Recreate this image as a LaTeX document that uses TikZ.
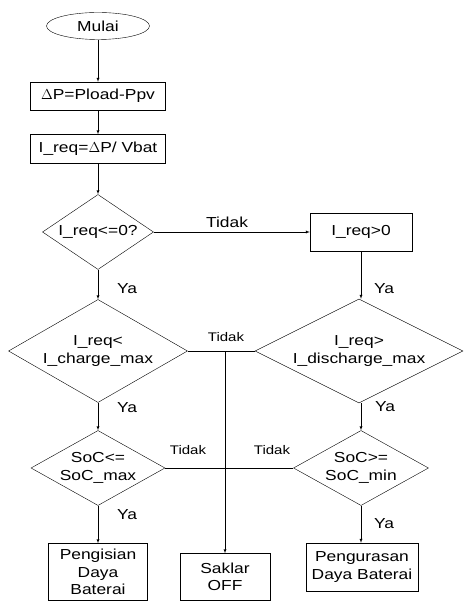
\documentclass[tikz,border=0pt]{standalone}
\usepackage{fontspec}
\setmainfont{Liberation Sans}[FakeStretch=1.2]
\usetikzlibrary{arrows}
\usetikzlibrary{shapes.geometric}
\usetikzlibrary{positioning}

\begin{document}
\begin{tikzpicture}[x=1pt,y=-1pt]
      \tikzstyle{every node}=[font=\fontsize{14.5}{17.5}\selectfont, align=center]
      \tikzstyle{box}=[draw, rectangle, inner sep=2pt]
      \tikzstyle{decision}=[draw, diamond, inner sep=0pt]
      \tikzstyle{ya}=[inner sep=0pt]
      \tikzstyle{tidak}=[inner sep=0pt, font=\fontsize{12.5}{15}\selectfont]
      \useasboundingbox (0,0) rectangle (464,601);

      \node[draw, ellipse, minimum width=103pt, minimum height=27pt] (mulai) at (98,26) {Mulai};
      \node[box, minimum width=135pt, minimum height=28pt] (dp) at (98,96) {$\Delta$P=Pload-Ppv};
      \node[box, minimum width=135pt, minimum height=29pt] (ireq) at (98,149) {I\_req=$\Delta$P/ Vbat};
      \node[decision, aspect=1.48, minimum width=111pt, minimum height=75pt] (cek0) at (98,232) {I\_req<=0?};
      \node[box, minimum width=102pt, minimum height=38pt] (pos) at (361,232) {I\_req>0};
      \node[decision, aspect=1.74, minimum width=179pt, minimum height=103pt] (cekchg) at (98,351) {I\_req<\\I\_charge\_max};
      \node[decision, aspect=2, minimum width=208pt, minimum height=104pt] (cekdis) at (359,351) {I\_req>\\I\_discharge\_max};
      \node[decision, aspect=1.79, minimum width=134pt, minimum height=75pt] (socmax) at (98,468) {SoC<=\\SoC\_max};
      \node[decision, aspect=1.8, minimum width=135pt, minimum height=75pt] (socmin) at (361,468) {SoC>=\\SoC\_min};
      \node[box, minimum width=99pt, minimum height=57pt] (isi) at (98,572) {Pengisian\\Daya\\Baterai};
      \node[box, minimum width=90pt, minimum height=47pt] (off) at (225,577) {Saklar\\OFF};
      \node[box, minimum width=112pt, minimum height=48pt] (kuras) at (362,567) {Pengurasan\\Daya Baterai};
      \coordinate (cabang) at (225,351);

      \node[ya] (ya1) at (127,289) {Ya};
      \node[ya] (ya2) at (384,289) {Ya};
      \node[ya] (ya3) at (127,408) {Ya};
      \node[ya] (ya4) at (385,407) {Ya};
      \node[ya] (ya5) at (127,515) {Ya};
      \node[ya] (ya6) at (384,524) {Ya};
      \node[ya] (tdk1) at (227,222) {Tidak};
      \node[tidak] (tdk2) at (226,337) {Tidak};
      \node[tidak] (tdk3) at (188,450) {Tidak};
      \node[tidak] (tdk4) at (272,450) {Tidak};

      \draw[-latex] (mulai) -- (dp);
      \draw[-latex] (dp) -- (ireq);
      \draw[-latex] (ireq) -- (cek0);
      \draw[-latex] (cek0.east) -- (pos.west);
      \draw[-latex] (cek0) -- (cekchg);
      \draw[-latex] (pos) -- (pos |- cekdis.north);
      \draw (cekchg.east) -- (cekdis.west);
      \draw[-latex] (cabang) -- (off);
      \draw[-latex] (cekchg) -- (socmax);
      \draw[-latex] (cekdis.south -| socmin.north) -- (socmin);
      \draw (socmax.east) -- (socmin.west);
      \draw[-latex] (socmax) -- (isi);
      \draw[-latex] (socmin) -- (socmin |- kuras.north);
    \end{tikzpicture}
\end{document}
